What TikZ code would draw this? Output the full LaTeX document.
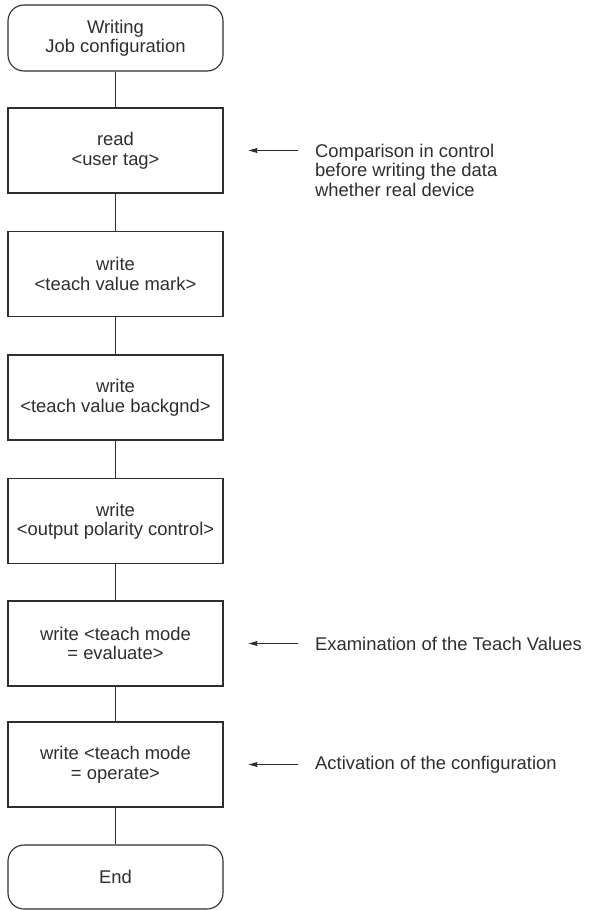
\documentclass[tikz,border=0pt]{standalone}
\usepackage{fontspec}
\setmainfont{Liberation Sans}
\usetikzlibrary{arrows.meta}
\definecolor{ink}{gray}{0.18}
\begin{document}
\begin{tikzpicture}[x=1pt,y=-1pt,
  txt/.style={font=\fontsize{18.4}{19.5}\selectfont, text=ink},
  box/.style={txt, draw=ink, line width=1.1pt, minimum width=215pt, minimum height=85pt, align=center, inner sep=0pt},
  term/.style={box, rounded corners=16pt, minimum height=66pt},
  note/.style={txt, align=left, inner sep=0pt},
  link/.style={draw=ink, line width=1.1pt},
  ptr/.style={draw=ink, fill=ink, line width=1pt, -{Stealth[length=9pt,width=5pt,inset=1pt]}}]
\useasboundingbox (0,0) rectangle (589,910);

\node[term] (start) at (115.5,38) {Writing\\Job configuration};
\node[box] (b1) at (115.5,150.5) {read\\<user tag>};
\node[box] (b2) at (115.5,274) {write\\<teach value mark>};
\node[box] (b3) at (115.5,397.5) {write\\<teach value backgnd>};
\node[box] (b4) at (115.5,521) {write\\<output polarity control>};
\node[box] (b5) at (115.5,643.5) {write <teach mode\\= evaluate>};
\node[box] (b6) at (115.5,764.5) {write <teach mode\\= operate>};
\node[term, minimum height=64pt] (end) at (115.5,877) {End};

\draw[link] (start) -- (b1);
\draw[link] (b1) -- (b2);
\draw[link] (b2) -- (b3);
\draw[link] (b3) -- (b4);
\draw[link] (b4) -- (b5);
\draw[link] (b5) -- (b6);
\draw[link] (b6) -- (end);

\node[note, anchor=north west] (n1) at (315,143.5) {Comparison in control\\before writing the data\\whether real device};
\node[note, anchor=west] (n5) at (315,643.5) {Examination of the Teach Values};
\node[note, anchor=west] (n6) at (315,764.5) {Activation of the configuration};

\coordinate (p1) at (298,150.5);
\draw[ptr] (p1) -- ([xshift=25pt]b1.east);
\draw[ptr] ([xshift=-17pt]n5.west) -- ([xshift=25pt]b5.east);
\draw[ptr] ([xshift=-17pt]n6.west) -- ([xshift=25pt]b6.east);
\end{tikzpicture}
\end{document}
